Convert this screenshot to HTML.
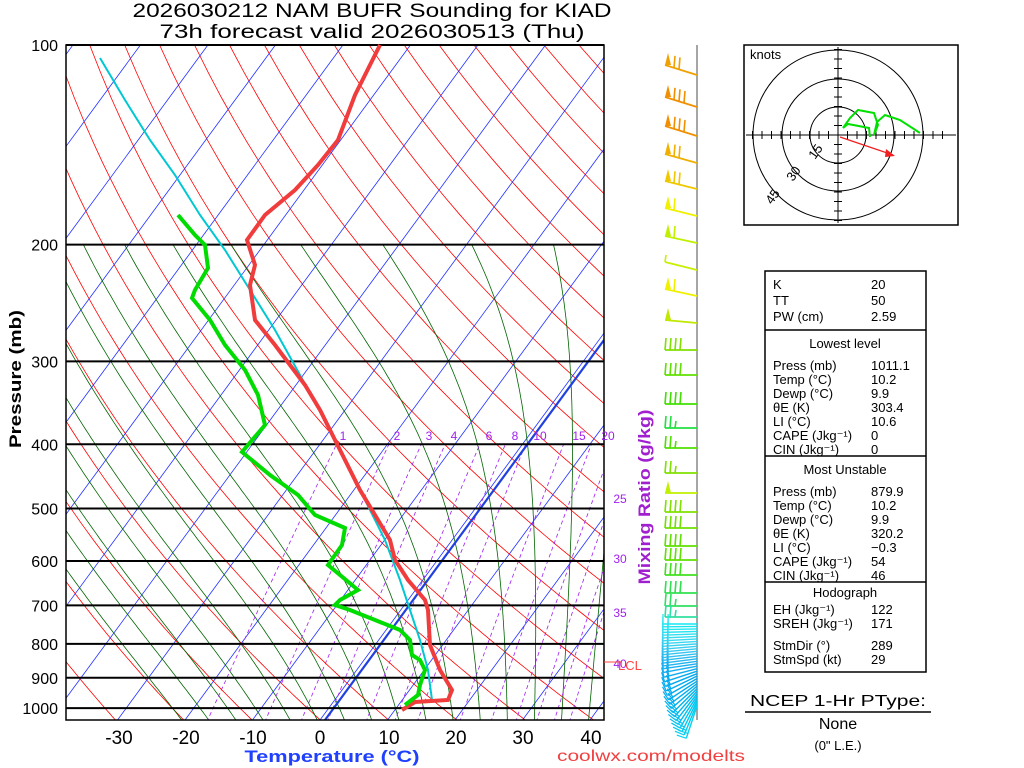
<!DOCTYPE html>
<html><head><meta charset="utf-8"><style>
body{margin:0;background:#fff;width:1024px;height:768px;overflow:hidden;font-family:"Liberation Sans",sans-serif}
svg{position:absolute;left:0;top:0}
</style></head><body>
<svg id="s" width="1024" height="768" xmlns="http://www.w3.org/2000/svg" font-family="Liberation Sans, sans-serif">
<defs><clipPath id="c"><rect x="66" y="45" width="538" height="675"/></clipPath></defs>
<g id="grid" clip-path="url(#c)"></g>
<g id="fg"></g>
</svg>
<script>
const NS="http://www.w3.org/2000/svg";
const grid=document.getElementById('grid'),fg=document.getElementById('fg');
function el(p,t,a,txt){const e=document.createElementNS(NS,t);for(const k in a)e.setAttribute(k,a[k]);if(txt!=null)e.textContent=txt;p.appendChild(e);return e;}
const Y=p=>45+288*Math.log(p/100);
const X=(T,p)=>320+6.75*T+(720-Y(p))*0.734;
function line(g,pts,col,w,dash){el(g,'polyline',{points:pts.map(q=>q[0].toFixed(1)+','+q[1].toFixed(1)).join(' '),fill:'none',stroke:col,'stroke-width':w||1,'stroke-dasharray':dash||'none'});}
const ps=[];for(let p=1050;p>=100;p-=10)ps.push(p);
for(let th=200;th<=560;th+=10){line(grid,ps.map(p=>[X(th*Math.pow(p/1000,0.286)-273.15,p),Y(p)]),'#f00',0.8);}
for(let T=-160;T<=50;T+=10){line(grid,[[X(T,1050),Y(1050)],[X(T,100),Y(100)]],'#2030ff',0.8);}
function es(T){return 6.112*Math.exp(17.67*T/(T+243.5));}
function ws(T,p){return 0.622*es(T)/(p-es(T));}
function dTdp(T,p){const Tk=T+273.15,w=ws(T,p),L=2.5e6,Rd=287,cp=1005;
 return (Rd*Tk+L*w)/(p*(cp+L*L*w*0.622/(Rd*Tk*Tk)));}
for(let T0=-20;T0<=40;T0+=4){let T=T0,pts=[];for(let p=1050;p>=200;p-=5){pts.push([X(T,p),Y(p)]);T-=dTdp(T,p)*5;}line(grid,pts,'#006400',0.8);}
const mrs=[1,2,3,4,6,8,10,15,20,25,30,35,40];
function Tw(w,p){let lo=-60,hi=60;for(let i=0;i<40;i++){const m=(lo+hi)/2;if(ws(m,p)*1000<w)lo=m;else hi=m;}return lo;}
for(const w of mrs){const pts=[];for(let p=1050;p>=400;p-=10)pts.push([X(Tw(w,p),p),Y(p)]);line(grid,pts,'#a020f0',0.8,'4,3');}
line(grid,[[325,720],[604,340]],'#2040e0',2.2);
for(const p of [100,200,300,400,500,600,700,800,900,1000])el(fg,'line',{x1:66,x2:604,y1:Y(p),y2:Y(p),stroke:'#000','stroke-width':2});
el(fg,'rect',{x:66,y:45,width:538,height:675,fill:'none',stroke:'#000','stroke-width':1.5});
[[1,343],[2,397],[3,429],[4,454],[6,489],[8,515],[10,540],[15,579],[20,608]].forEach(a=>el(fg,'text',{x:a[1],y:440,'font-size':12,fill:'#a020f0','text-anchor':'middle'},a[0]));
[[25,500],[30,560],[35,614],[40,665]].forEach(a=>el(fg,'text',{x:620,y:a[1]+3,'font-size':12,fill:'#a020f0','text-anchor':'middle'},a[0]));
el(fg,'line',{x1:604,x2:622,y1:662,y2:662,stroke:'#f44'});
el(fg,'text',{x:618,y:670,'font-size':13,fill:'#f44'},'LCL');
const P=s=>s.trim().split(/\s+/).map(q=>q.split(',').map(Number));
line(fg,P("100,58 125,100 150,140 175,175 200,215 225,250 250,290 275,330 300,375 325,420 345,460 365,500 385,540 400,580 410,610 420,640 428,670 432,700"),'#00c8d2',2);
line(fg,P("380,45 370,65 355,95 338,140 318,165 295,190 265,215 247,240 255,265 250,285 255,320 275,345 290,365 305,385 320,410 330,430 345,460 360,490 375,515 390,540 395,560 408,580 425,600 428,610 430,645 440,670 452,690 448,700 415,702 402,710"),'#f03c3c',4);
line(fg,P("178,215 195,235 205,245 208,268 195,290 192,298 210,320 225,345 245,370 258,395 265,425 242,452 270,475 298,495 315,515 345,528 342,545 328,565 340,575 358,590 340,600 335,605 350,610 375,620 400,630 410,640 412,655 420,660 425,670 420,685 418,695 405,705"),'#00dc00',4);
[[-30,119],[-20,186],[-10,253],[0,320],[10,389],[20,456],[30,523],[40,591]].forEach(a=>el(fg,'text',{x:a[1],y:744,'font-size':19,'text-anchor':'middle'},a[0]));
[100,200,300,400,500,600,700,800,900,1000].forEach(p=>el(fg,'text',{x:58,y:Y(p)+6,'font-size':16,'text-anchor':'end'},p));
el(fg,'text',{x:21,y:379,'font-size':17,'font-weight':'bold',transform:'rotate(-90 21 379)','text-anchor':'middle',textLength:138,lengthAdjust:'spacingAndGlyphs'},'Pressure (mb)');
el(fg,'text',{x:332,y:762,'font-size':17,'font-weight':'bold',fill:'#2040ff','text-anchor':'middle',textLength:175,lengthAdjust:'spacingAndGlyphs'},'Temperature (°C)');
el(fg,'text',{x:650,y:497,'font-size':17,'font-weight':'bold',fill:'#a020d0','text-anchor':'middle',transform:'rotate(-90 650 497)',textLength:175,lengthAdjust:'spacingAndGlyphs'},'Mixing Ratio (g/kg)');
el(fg,'text',{x:372,y:17,'font-size':19,'text-anchor':'middle',textLength:479,lengthAdjust:'spacingAndGlyphs'},'2026030212 NAM BUFR Sounding for KIAD');
el(fg,'text',{x:372,y:38,'font-size':19,'text-anchor':'middle',textLength:425,lengthAdjust:'spacingAndGlyphs'},'73h forecast valid 2026030513 (Thu)');
el(fg,'text',{x:651,y:761,'font-size':16,fill:'#f04040','text-anchor':'middle',textLength:188,lengthAdjust:'spacingAndGlyphs'},'coolwx.com/modelts');
// wind barbs
el(fg,'line',{x1:697,x2:697,y1:45,y2:720,stroke:'#888','stroke-width':1.5});
const B=[[75,10,'#f0a000',1,2],[107,10,'#f09000',1,3],[136,10,'#f09000',1,3],[163,9,'#f0b000',1,2],[189,8,'#f0c800',1,2],[216,8,'#f0f000',1,1],[243,7,'#c0f000',1,1],[270,8,'#c8f000',0,1],[296,7,'#f0f000',1,1],[323,3,'#c0e800',1,0],
[350,0,'#80e000',0,4],[375,0,'#60e000',0,4],[404,0,'#40e000',0,4],[428,0,'#20e040',0,3],[448,0,'#50e000',0,3],[473,0,'#80e000',0,3],[493,0,'#c0f000',1,0],[512,0,'#80e000',0,4],[528,0,'#70e000',0,4],[546,0,'#60e000',0,4],[560,0,'#60e000',0,4],[575,0,'#40e020',0,4],[593,0,'#30e050',0,4],[606,0,'#30e060',0,3],[617,0,'#30e0a0',0,3]];
B.forEach(b=>{const [y,dy,c,pen,n]=b;const lx=665,ly=y-dy;
 el(fg,'line',{x1:697,y1:y,x2:lx,y2:ly,stroke:c,'stroke-width':1.8});
 let x=lx;
 if(pen){el(fg,'polygon',{points:`${lx},${ly} ${lx+3},${ly-12} ${lx+6},${ly}`,fill:c});x+=9;}
 for(let k=0;k<n;k++){const xx=x+k*5,yy=ly+(xx-lx)*dy/32;const L=(k==n-1&&!pen&&n<4)?7:12;el(fg,'line',{x1:xx,y1:yy,x2:xx+1,y2:yy-L,stroke:c,'stroke-width':1.6});}});
for(let i=0;i<34;i++){const a=i/33,y=624+a*82;const ang=(a<0.5? a*0.3 : 0.15+(a-0.5)*2.2);const L=34;
 const ex=697-L*Math.cos(ang), ey=y+L*Math.sin(ang);
 const c=`rgb(${Math.round(20+40*Math.sin(a*6))},${Math.round(200+30*Math.cos(a*5))},${Math.round(240)})`;
 el(fg,'line',{x1:697,y1:y,x2:ex,y2:ey,stroke:c,'stroke-width':1.4});
 for(let k=0;k<2;k++){const bx=ex+(697-ex)*(k*0.15),by=ey+(y-ey)*(k*0.15);
  el(fg,'line',{x1:bx,y1:by,x2:bx-10*Math.sin(ang),y2:by-10*Math.cos(ang),stroke:c,'stroke-width':1.2});}}
// hodograph
const h=el(fg,'g',{});
el(h,'rect',{x:744,y:45,width:214,height:180,fill:'#fff',stroke:'#000','stroke-width':1.5});
[28,56,85].forEach(r=>el(h,'circle',{cx:838,cy:135,r:r,fill:'none',stroke:'#000'}));
el(h,'line',{x1:746,x2:956,y1:135,y2:135,stroke:'#000'});el(h,'line',{x1:838,x2:838,y1:47,y2:223,stroke:'#000'});
for(let i=-9;i<=11;i++){el(h,'line',{x1:838+i*9.5,x2:838+i*9.5,y1:131,y2:139,stroke:'#000'});}
for(let i=-9;i<=9;i++){el(h,'line',{x1:834,x2:842,y1:135+i*9.5,y2:135+i*9.5,stroke:'#000'});}
el(h,'text',{x:750,y:59,'font-size':13},'knots');
el(h,'text',{x:815,y:160,'font-size':13,transform:'rotate(-55 815 160)'},'15');
el(h,'text',{x:793,y:182,'font-size':13,transform:'rotate(-55 793 182)'},'30');
el(h,'text',{x:772,y:205,'font-size':13,transform:'rotate(-55 772 205)'},'45');
line(h,P("843,128 850,118 858,110 874,113 878,125 874,135 877,122 885,115 900,120 920,133"),'#00e000',2);
line(h,P("843,128 848,124 869,128 870,137"),'#00e000',2);
el(h,'line',{x1:840,y1:137,x2:893,y2:155,stroke:'#f02020','stroke-width':1.3});
el(h,'polygon',{points:'895,156 886,149 885,157',fill:'#f02020'});
// table
const t=el(fg,'g',{'font-size':13});
el(t,'rect',{x:765,y:271,width:161,height:401,fill:'none',stroke:'#000','stroke-width':1.5});
[330,456,582].forEach(y=>el(t,'line',{x1:765,x2:926,y1:y,y2:y,stroke:'#000','stroke-width':1.5}));
const rows=[[289,'K','20'],[305,'TT','50'],[321,'PW (cm)','2.59'],
[370,'Press (mb)','1011.1'],[384,'Temp (°C)','10.2'],[398,'Dewp (°C)','9.9'],[412,'θE (K)','303.4'],[426,'LI (°C)','10.6'],[440,'CAPE (Jkg⁻¹)','0'],[454,'CIN (Jkg⁻¹)','0'],
[496,'Press (mb)','879.9'],[510,'Temp (°C)','10.2'],[524,'Dewp (°C)','9.9'],[538,'θE (K)','320.2'],[552,'LI (°C)','−0.3'],[566,'CAPE (Jkg⁻¹)','54'],[580,'CIN (Jkg⁻¹)','46'],
[614,'EH (Jkg⁻¹)','122'],[628,'SREH (Jkg⁻¹)','171'],[650,'StmDir (°)','289'],[664,'StmSpd (kt)','29']];
rows.forEach(r=>{el(t,'text',{x:773,y:r[0]},r[1]);el(t,'text',{x:871,y:r[0]},r[2]);});
[[348,'Lowest level'],[474,'Most Unstable'],[597,'Hodograph']].forEach(a=>el(t,'text',{x:845,y:a[0],'text-anchor':'middle'},a[1]));
el(fg,'text',{x:838,y:706,'font-size':16,'text-anchor':'middle',textLength:176,lengthAdjust:'spacingAndGlyphs'},'NCEP 1-Hr PType:');
el(fg,'line',{x1:745,x2:931,y1:712,y2:712,stroke:'#000','stroke-width':1.5});
el(fg,'text',{x:838,y:729,'font-size':16,'text-anchor':'middle'},'None');
el(fg,'text',{x:838,y:750,'font-size':13,'text-anchor':'middle'},'(0" L.E.)');
</script>
</body></html>
